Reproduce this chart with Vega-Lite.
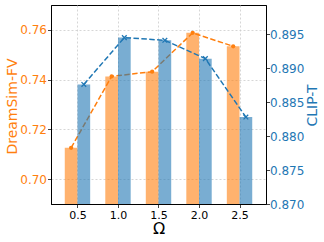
{
  "$schema": "https://vega.github.io/schema/vega-lite/v6.json",
  "width": 215,
  "height": 199,
  "autosize": {"type": "none"},
  "padding": {"left": 51, "top": 5, "right": 58, "bottom": 38},
  "background": "white",
  "config": {
    "view": {"stroke": "black", "strokeWidth": 1},
    "font": "DejaVu Sans",
    "axis": {
      "labelFont": "DejaVu Sans",
      "titleFont": "DejaVu Sans",
      "titleFontWeight": "normal",
      "tickSize": 3.5,
      "tickColor": "#444444",
      "domainColor": "black",
      "gridColor": "#cccccc",
      "gridDash": [2, 2],
      "gridWidth": 0.8,
      "labelFlush": false,
      "labelOverlap": false
    }
  },
  "data": {
    "values": [
      {"omega": 0.5, "dreamsim": 0.7126, "clipt": 0.8876},
      {"omega": 1.0, "dreamsim": 0.7413, "clipt": 0.8945},
      {"omega": 1.5, "dreamsim": 0.7432, "clipt": 0.8941},
      {"omega": 2.0, "dreamsim": 0.7588, "clipt": 0.8914},
      {"omega": 2.5, "dreamsim": 0.7534, "clipt": 0.8828}
    ]
  },
  "encoding": {
    "x": {
      "field": "omega",
      "type": "quantitative",
      "scale": {"domain": [0.235, 2.765], "nice": false, "zero": false},
      "axis": {
        "values": [0.5, 1.0, 1.5, 2.0, 2.5],
        "format": ".1f",
        "title": "Ω",
        "titleFontSize": 16,
        "titleColor": "black",
        "titleBaseline": "alphabetic",
        "titleY": 29.5,
        "labelFontSize": 11,
        "labelColor": "black",
        "labelPadding": 1.5,
        "grid": true,
        "domain": true
      }
    }
  },
  "layer": [
    {
      "encoding": {
        "y": {
          "field": "dreamsim",
          "type": "quantitative",
          "scale": {"domain": [0.69, 0.77], "nice": false, "zero": false},
          "axis": {
            "orient": "left",
            "title": "DreamSim-FV",
            "values": [0.70, 0.72, 0.74, 0.76],
            "format": ".2f",
            "titleColor": "#ff7f0e",
            "labelColor": "#ff7f0e",
            "labelFontSize": 12,
            "titleFontSize": 14,
            "labelPadding": 1,
            "titleAngle": 270,
            "titleBaseline": "alphabetic",
            "titleX": -35,
            "titleY": 101,
            "grid": true,
            "domain": true
          }
        }
      },
      "layer": [
        {"mark": {"type": "bar", "width": 12.7, "xOffset": -6.35, "color": "#ff7f0e", "opacity": 0.6, "clip": true}},
        {"mark": {"type": "line", "xOffset": -6.35, "color": "#ff7f0e", "strokeWidth": 1.5, "strokeDash": [5.5, 2.4]}},
        {"mark": {"type": "point", "shape": "circle", "filled": true, "size": 18, "opacity": 1, "xOffset": -6.35, "color": "#ff7f0e"}}
      ]
    },
    {
      "encoding": {
        "y": {
          "field": "clipt",
          "type": "quantitative",
          "scale": {"domain": [0.870, 0.8993], "nice": false, "zero": false},
          "axis": {
            "orient": "right",
            "title": "CLIP-T",
            "values": [0.870, 0.875, 0.880, 0.885, 0.890, 0.895],
            "format": ".3f",
            "titleColor": "#1f77b4",
            "labelColor": "#1f77b4",
            "labelFontSize": 12,
            "titleFontSize": 14,
            "labelPadding": 0,
            "titleAngle": 270,
            "titleBaseline": "alphabetic",
            "titleX": 50,
            "titleY": 100,
            "grid": false,
            "domain": true
          }
        }
      },
      "layer": [
        {"mark": {"type": "bar", "width": 12.7, "xOffset": 6.35, "color": "#1f77b4", "opacity": 0.6, "clip": true}},
        {"mark": {"type": "line", "xOffset": 6.35, "color": "#1f77b4", "strokeWidth": 1.5, "strokeDash": [5.5, 2.4]}},
        {"mark": {"type": "point", "shape": "M-1,-1L1,1M-1,1L1,-1", "filled": false, "size": 22, "strokeWidth": 1.3, "opacity": 1, "xOffset": 6.35, "color": "#1f77b4"}}
      ]
    }
  ],
  "resolve": {"scale": {"y": "independent"}}
}
